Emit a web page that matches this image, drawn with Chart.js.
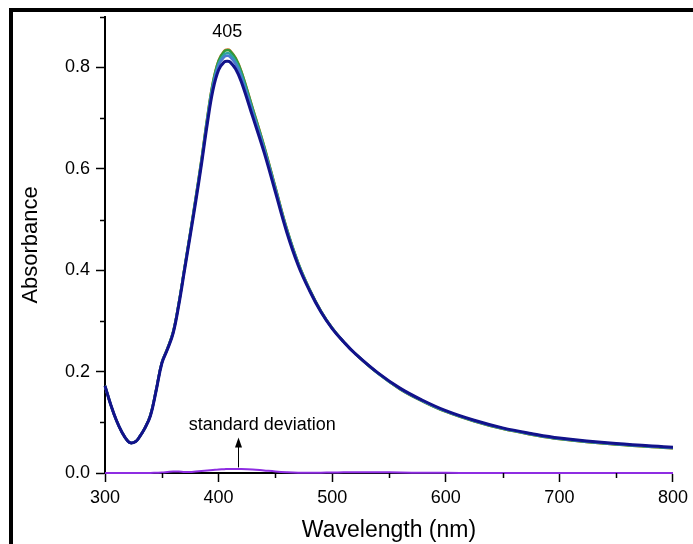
<!DOCTYPE html>
<html>
<head>
<meta charset="utf-8">
<script src="https://cdn.jsdelivr.net/npm/chart.js@4"></script>
<style>
  html, body { margin: 0; padding: 0; background: #fff; }
  #wrap { position: relative; width: 693px; height: 544px; overflow: hidden; }
  #frame { position: absolute; left: 9px; top: 8px; width: 800px; height: 700px;
           border-top: 4px solid #000; border-left: 4px solid #000; pointer-events: none; }
  canvas { position: absolute; left: 0; top: 0; }
</style>
</head>
<body>
<div id="wrap">
  <canvas id="chart" width="693" height="544"></canvas>
  <div id="frame"></div>
</div>
<script>
const wavelengths = [300,305,310,315,320,323,327,330,335,340,345,350,355,360,365,370,375,380,385,390,395,400,405,408,410,415,420,430,440,450,460,470,480,490,500,510,520,540,560,580,600,625,650,675,700,750,800];

const absNavy   = [0.172,0.135,0.104,0.080,0.063,0.059,0.062,0.070,0.088,0.113,0.162,0.216,0.244,0.276,0.332,0.400,0.468,0.537,0.610,0.688,0.755,0.795,0.811,0.8125,0.811,0.797,0.772,0.703,0.633,0.554,0.475,0.410,0.360,0.318,0.285,0.259,0.236,0.198,0.167,0.143,0.123,0.104,0.089,0.078,0.069,0.058,0.051];
const absOrange = [0.172,0.135,0.104,0.080,0.063,0.059,0.062,0.070,0.088,0.114,0.164,0.218,0.246,0.279,0.336,0.405,0.474,0.545,0.620,0.701,0.771,0.814,0.833,0.8355,0.834,0.819,0.793,0.720,0.646,0.564,0.482,0.415,0.363,0.320,0.286,0.259,0.236,0.197,0.165,0.141,0.121,0.102,0.087,0.076,0.067,0.056,0.049];
const absGreen  = [0.172,0.135,0.104,0.080,0.063,0.059,0.062,0.070,0.088,0.114,0.164,0.218,0.246,0.279,0.336,0.405,0.474,0.545,0.619,0.700,0.770,0.813,0.832,0.834,0.833,0.818,0.792,0.719,0.645,0.563,0.482,0.415,0.363,0.320,0.286,0.259,0.236,0.197,0.165,0.141,0.121,0.102,0.087,0.076,0.067,0.056,0.049];
const absTeal   = [0.172,0.135,0.104,0.080,0.063,0.059,0.062,0.070,0.088,0.114,0.163,0.217,0.245,0.278,0.335,0.404,0.472,0.543,0.617,0.697,0.766,0.808,0.826,0.828,0.827,0.812,0.787,0.715,0.642,0.561,0.480,0.414,0.362,0.319,0.286,0.259,0.236,0.197,0.166,0.142,0.122,0.103,0.088,0.077,0.068,0.057,0.050];
const absBlue   = [0.172,0.135,0.104,0.080,0.063,0.059,0.062,0.070,0.088,0.113,0.163,0.217,0.245,0.277,0.334,0.402,0.471,0.541,0.614,0.694,0.762,0.804,0.821,0.823,0.821,0.807,0.781,0.711,0.639,0.559,0.478,0.412,0.361,0.319,0.285,0.259,0.236,0.198,0.166,0.142,0.122,0.103,0.088,0.077,0.068,0.057,0.050];
const stdDev    = [0,0,0,0,0,0,0,0,0,0,0.0005,0.001,0.002,0.003,0.003,0.002,0.002,0.003,0.004,0.005,0.006,0.007,0.0075,0.008,0.008,0.008,0.008,0.007,0.005,0.003,0.0015,0.0005,0.0003,0.0005,0.001,0.0013,0.0015,0.0015,0.001,0.0005,0.0003,0.0002,0.0002,0.0002,0.0002,0.0002,0.0002];

const xMajor = [300,400,500,600,700,800];
const xMinor = [350,450,550,650,750];
const yMajor = [0,0.2,0.4,0.6,0.8];
const yMinor = [0.1,0.3,0.5,0.7,0.9];

const FONT = '"Liberation Sans", Arial, sans-serif';

function serie(label, data, color, width, order) {
  return {
    label,
    data: wavelengths.map((w, i) => ({ x: w, y: data[i] })),
    borderColor: color,
    borderWidth: width,
    pointRadius: 0,
    tension: 0.4,
    fill: false,
    order,
    clip: false
  };
}

// ── Ticks menores, anotación y flecha ──
const extras = {
  id: 'extras',
  afterDraw(chart) {
    const { ctx, scales: { x, y } } = chart;
    ctx.save();
    ctx.strokeStyle = '#000';
    ctx.lineWidth = 1.5;
    ctx.beginPath();
    yMinor.forEach(v => {
      const py = Math.round(y.getPixelForValue(v)) + 0.5;
      ctx.moveTo(x.left - 5, py); ctx.lineTo(x.left, py);
    });
    xMinor.forEach(v => {
      const px = Math.round(x.getPixelForValue(v)) + 0.5;
      ctx.moveTo(px, y.bottom); ctx.lineTo(px, y.bottom + 5);
    });
    ctx.stroke();

    ctx.fillStyle = '#000';
    ctx.font = '18px ' + FONT;
    ctx.textAlign = 'center';
    ctx.textBaseline = 'middle';
    ctx.fillText('405', x.getPixelForValue(407.7), y.getPixelForValue(0.869));
    ctx.fillText('standard deviation', x.getPixelForValue(438.4), y.getPixelForValue(0.0955));

    // flecha
    const ax = Math.round(x.getPixelForValue(416.9)) + 0.5;
    const tip = y.getPixelForValue(0.070);
    const base = y.getPixelForValue(0.011);
    ctx.lineWidth = 1;
    ctx.beginPath();
    ctx.moveTo(ax, base); ctx.lineTo(ax, tip + 8);
    ctx.stroke();
    ctx.beginPath();
    ctx.moveTo(ax, tip);
    ctx.lineTo(ax - 3.5, tip + 10);
    ctx.lineTo(ax + 3.5, tip + 10);
    ctx.closePath();
    ctx.fill();
    ctx.restore();
  }
};

new Chart(document.getElementById('chart'), {
  type: 'line',
  data: {
    datasets: [
      serie('navy', absNavy, '#12128a', 3, 0),
      serie('blue', absBlue, '#4a78d0', 2.5, 1),
      serie('teal', absTeal, '#2aa3a0', 2.5, 2),
      serie('green', absGreen, '#2e9a3a', 2.5, 3),
      serie('orange', absOrange, '#c8782a', 2.5, 4),
      serie('std', stdDev, '#8e2de2', 2, -1)
    ]
  },
  options: {
    responsive: false,
    animation: false,
    events: [],
    layout: { padding: { left: 0, top: 14, right: 17, bottom: 0 } },
    plugins: { legend: { display: false }, tooltip: { enabled: false } },
    scales: {
      x: {
        type: 'linear',
        min: 300, max: 800,
        afterFit: s => { s.height = 71; },
        afterBuildTicks: s => { s.ticks = xMajor.map(v => ({ value: v })); },
        grid: { drawOnChartArea: false, drawTicks: true, tickLength: 9, tickColor: '#000', tickWidth: 1.5 },
        border: { display: true, color: '#000', width: 2 },
        ticks: { color: '#000', font: { family: FONT, size: 18 }, padding: 5, maxRotation: 0 },
        title: { display: true, text: 'Wavelength (nm)', color: '#000',
                 font: { family: FONT, size: 23 }, padding: { top: 2, bottom: 0 } }
      },
      y: {
        type: 'linear',
        min: 0, max: 0.9,
        afterFit: s => { s.width = 105; },
        afterBuildTicks: s => { s.ticks = yMajor.map(v => ({ value: v })); },
        grid: { drawOnChartArea: false, drawTicks: true, tickLength: 9, tickColor: '#000', tickWidth: 1.5 },
        border: { display: true, color: '#000', width: 2 },
        ticks: { color: '#000', font: { family: FONT, size: 18 }, padding: 6,
                 callback: v => v.toFixed(1) },
        title: { display: true, text: 'Absorbance', color: '#000',
                 font: { family: FONT, size: 22 }, padding: { top: 18, bottom: 0 } }
      }
    }
  },
  plugins: [extras]
});
</script>
</body>
</html>
